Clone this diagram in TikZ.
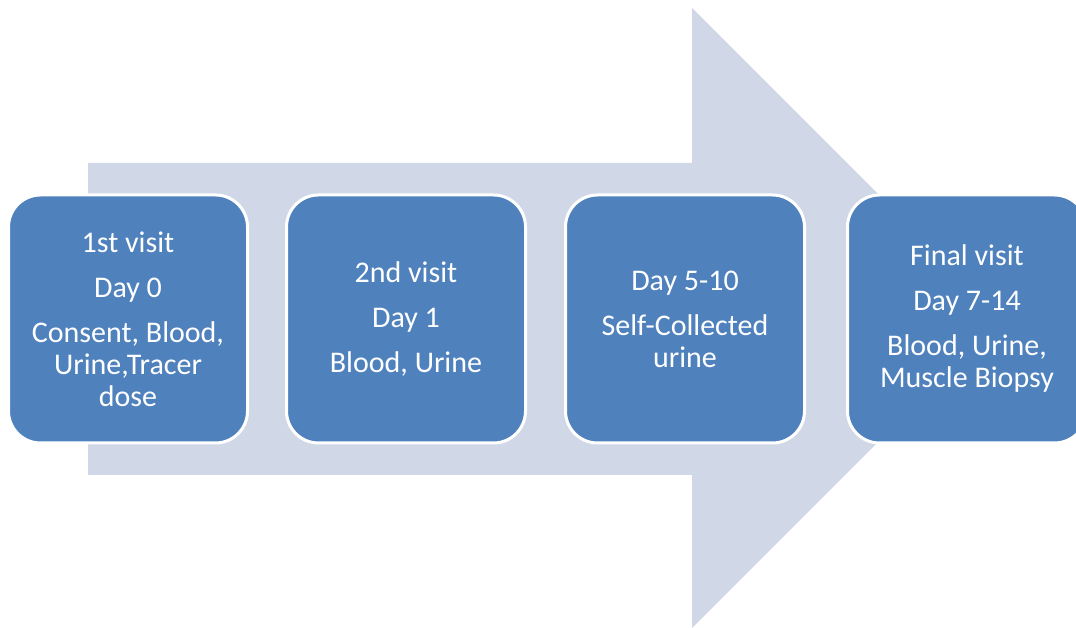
\documentclass[tikz,border=0pt]{standalone}
\usepackage{fontspec}
\setmainfont{Carlito}
\definecolor{shaftgray}{HTML}{D0D8E8}
\definecolor{visitblue}{HTML}{4F81BD}
\begin{document}
\begin{tikzpicture}[x=1pt, y=1pt,
    visit/.style={draw=white, line width=3pt, fill=visitblue, rounded corners=32pt,
        minimum width=239pt, minimum height=248pt, inner sep=0pt,
        text=white, align=center, font=\fontsize{30}{32}\selectfont}]
    \useasboundingbox (0,0) rectangle (1076,628);
    \clip (0,0) rectangle (1076,628);
    % Big background arrow
    \fill[shaftgray] (88,465) -- (692,465) -- (692,620) -- (1002,310)
        -- (692,0) -- (692,153) -- (88,153) -- cycle;
    % Visits
    \node[visit] (v1) at (128,309) {1st visit\\[13pt] Day 0\\[13pt] Consent, Blood,\\ Urine,Tracer\\ dose};
    \node[visit] (v2) at (406,309) {2nd visit\\[13pt] Day 1\\[13pt] Blood, Urine};
    \node[visit] (v3) at (685,309) {Day 5-10\\[13pt] Self-Collected\\ urine};
    \node[visit] (v4) at (967,309) {Final visit\\[13pt] Day 7-14\\[13pt] Blood, Urine,\\ Muscle Biopsy};
\end{tikzpicture}
\end{document}
